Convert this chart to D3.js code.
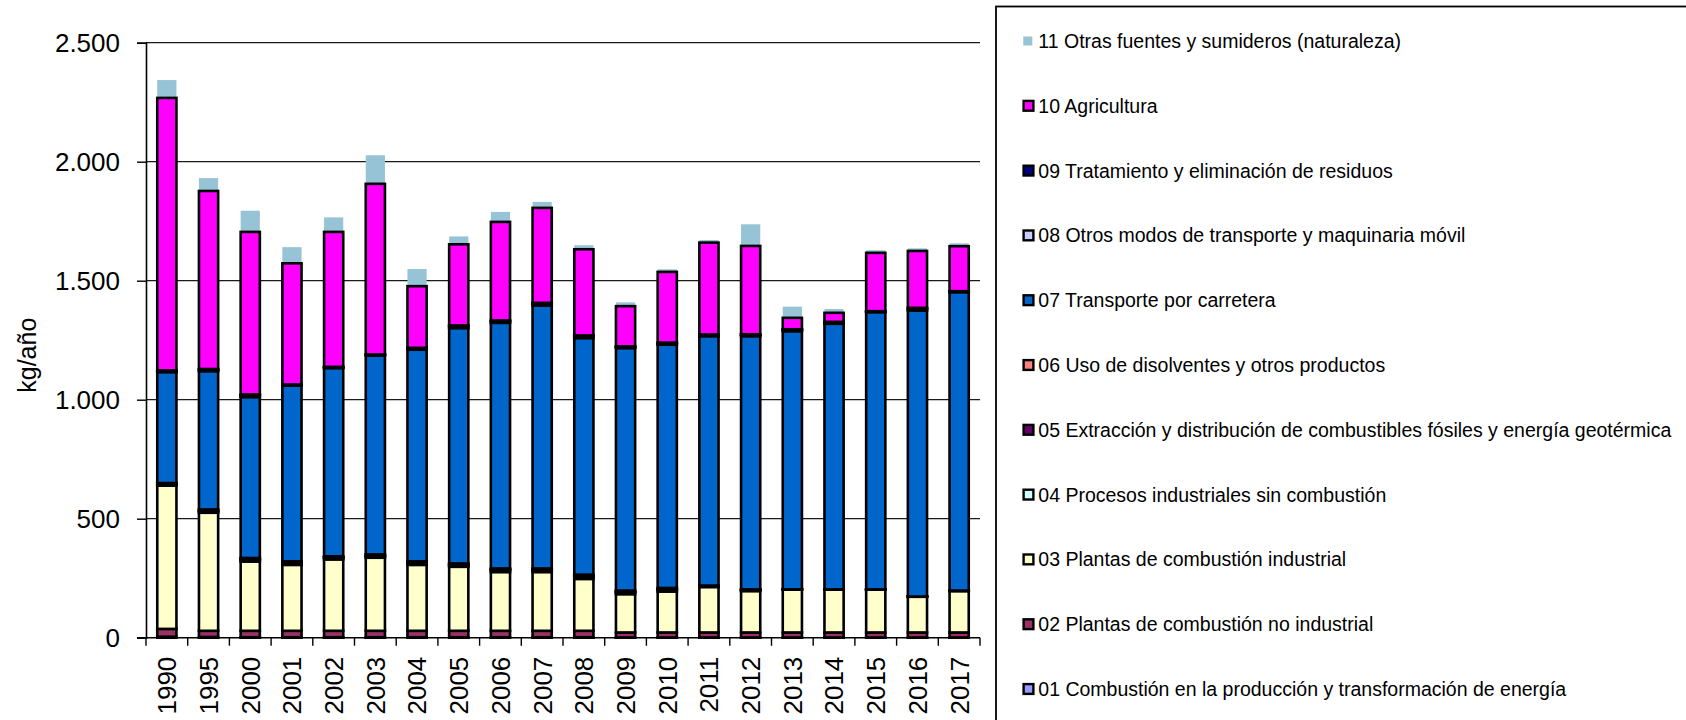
<!DOCTYPE html>
<html>
<head>
<meta charset="utf-8">
<script src="https://cdn.jsdelivr.net/npm/d3@7/dist/d3.min.js"></script>
<style>
  html, body { margin: 0; padding: 0; background: #fff; }
  svg { display: block; font-family: "Liberation Sans", Arial, sans-serif; }
</style>
</head>
<body>
<div id="chart"></div>
<script>
const years = ["1990", "1995", "2000", "2001", "2002", "2003", "2004", "2005", "2006", "2007",
  "2008", "2009", "2010", "2011", "2012", "2013", "2014", "2015", "2016", "2017"]

// kg/año por sector
const s01 = [4, 3, 2, 2, 2, 2, 2, 2, 2, 2, 2, 1, 1, 1, 1, 1, 1, 1, 1, 1]
const s02 = [33, 26, 27, 27, 27, 27, 27, 27, 27, 27, 27, 21, 21, 21, 21, 21, 21, 21, 21, 21]
const s03 = [602, 496, 291, 277, 300, 307, 277, 269, 247, 247, 218, 161, 172, 191, 174, 180, 180, 180, 150, 174]
const s04 = [6, 7, 8, 8, 7, 7, 8, 7, 8, 8, 9, 8, 8, 3, 4, 0.5, 0.5, 0.5, 0.5, 1]
const s05 = [2, 2, 2, 2, 2, 2, 2, 2, 2, 2, 3, 2, 2, 1, 1, 0.2, 0.2, 0.2, 0.2, 0.3]
const s06 = [3, 5, 5, 5, 4, 5, 5, 5, 5, 5, 6, 5, 5, 2, 2, 0.3, 0.3, 0.3, 0.3, 0.7]
const s07 = [466, 581, 676, 739, 791, 836, 889, 989, 1032, 1105, 994, 1019, 1022, 1048, 1064, 1085, 1116, 1165, 1202, 1254]
const s08 = [5, 6, 8, 3, 3, 3, 6, 8, 7, 8, 8, 5, 6, 5, 6, 6, 6, 3, 8, 3]
const s09 = [2, 3, 3, 1, 2, 1, 2, 3, 3, 3, 3, 2, 3, 2, 2, 2, 2, 1, 3, 1]
const s10 = [1145, 748, 683, 509, 567, 717, 259, 341, 414, 399, 362, 169, 297, 386, 371, 48, 38, 245, 239, 189]
const s11 = [75, 54, 89, 68, 61, 120, 72, 33, 42, 25, 17, 16, 11, 11, 91, 47, 16, 11, 11, 12]

const yTicks = [0, 500, 1000, 1500, 2000, 2500]

const series = [
  { key: "s01", name: "01 Combustión en la producción y transformación de energía", color: "#9999ff", values: s01 },
  { key: "s02", name: "02 Plantas de combustión no industrial", color: "#993366", values: s02 },
  { key: "s03", name: "03 Plantas de combustión industrial", color: "#ffffcc", values: s03 },
  { key: "s04", name: "04 Procesos industriales sin combustión", color: "#ccffff", values: s04 },
  { key: "s05", name: "05 Extracción y distribución de combustibles fósiles y energía geotérmica", color: "#660066", values: s05 },
  { key: "s06", name: "06 Uso de disolventes y otros productos", color: "#ff8080", values: s06 },
  { key: "s07", name: "07 Transporte por carretera", color: "#0066cc", values: s07 },
  { key: "s08", name: "08 Otros modos de transporte y maquinaria móvil", color: "#ccccff", values: s08 },
  { key: "s09", name: "09 Tratamiento y eliminación de residuos", color: "#000080", values: s09 },
  { key: "s10", name: "10 Agricultura", color: "#ff00ff", values: s10 },
  { key: "s11", name: "11 Otras fuentes y sumideros (naturaleza)", color: "#96c3d5", values: s11, noStroke: true }
]

const width = 1686
const height = 720
const margin = { top: 42.7, right: 706, bottom: 82.3, left: 146 }

const rows = years.map((y, i) => {
  const r = { year: y }
  series.forEach(s => { r[s.key] = s.values[i] })
  return r
})

const stacked = d3.stack().keys(series.map(s => s.key))(rows)

const svg = d3.select("#chart")
  .append("svg")
  .attr("width", width)
  .attr("height", height)

const x = d3.scaleBand()
  .domain(years)
  .range([margin.left, width - margin.right])
  .paddingInner(0.54)
  .paddingOuter(0.27)

const y = d3.scaleLinear()
  .domain([0, 2500])
  .range([height - margin.bottom, margin.top])

// gridlines
svg.append("g")
  .selectAll("line")
  .data(yTicks.slice(1))
  .join("line")
  .attr("x1", margin.left).attr("x2", width - margin.right)
  .attr("y1", d => y(d)).attr("y2", d => y(d))
  .attr("stroke", "#1a1a1a")
  .attr("stroke-width", 1.3)

// y axis
const yAxis = svg.append("g")
  .attr("transform", `translate(${margin.left},0)`)
  .call(d3.axisLeft(y).tickValues(yTicks).tickSize(9).tickPadding(17)
    .tickFormat(d => d3.format(",")(d).replace(/,/g, ".")))
yAxis.select(".domain").attr("stroke", "#000").attr("stroke-width", 1.6)
yAxis.selectAll(".tick line").attr("stroke", "#000").attr("stroke-width", 1.4)
yAxis.selectAll("text")
  .attr("font-size", 26)
  .attr("font-family", "Liberation Sans, Arial, sans-serif")
  .attr("fill", "#000")

svg.append("text")
  .attr("transform", `translate(27,${(y(0) + y(2500)) / 2 + 15}) rotate(-90)`)
  .attr("text-anchor", "middle")
  .attr("dy", "0.35em")
  .attr("font-size", 25)
  .text("kg/año")

// bars: draw the "11" series first so the black outlines stay on top
const order = [stacked.length - 1, ...d3.range(stacked.length - 1)]
order.forEach(si => {
  const layer = stacked[si]
  const s = series[si]
  svg.append("g")
    .selectAll("rect")
    .data(layer)
    .join("rect")
    .attr("x", d => x(d.data.year))
    .attr("width", x.bandwidth())
    .attr("y", d => y(d[1]))
    .attr("height", d => y(d[0]) - y(d[1]))
    .attr("fill", s.color)
    .attr("stroke", s.noStroke ? "none" : "#000")
    .attr("stroke-width", 2.6)
})

// x baseline and category ticks
const xAxisG = svg.append("g")
xAxisG.append("line")
  .attr("x1", margin.left - 9).attr("x2", width - margin.right)
  .attr("y1", y(0)).attr("y2", y(0))
  .attr("stroke", "#000").attr("stroke-width", 1.6)
const bounds = d3.range(years.length + 1).map(i => margin.left + i * x.step())
xAxisG.selectAll(".xt")
  .data(bounds)
  .join("line")
  .attr("class", "xt")
  .attr("x1", d => d).attr("x2", d => d)
  .attr("y1", y(0)).attr("y2", y(0) + 8)
  .attr("stroke", "#000").attr("stroke-width", 1.4)

xAxisG.selectAll(".xl")
  .data(years)
  .join("text")
  .attr("class", "xl")
  .attr("transform", d => `translate(${x(d) + x.bandwidth() / 2},${y(0) + 19}) rotate(-90)`)
  .attr("text-anchor", "end")
  .attr("dy", "0.36em")
  .attr("font-size", 26)
  .text(d => d)

// legend
const lg = svg.append("g")
lg.append("rect")
  .attr("x", 996).attr("y", 6.5)
  .attr("width", 900).attr("height", 900)
  .attr("fill", "#fff")
  .attr("stroke", "#000")
  .attr("stroke-width", 1.8)

const legendItems = series.slice().reverse()
const ly = d3.scalePoint().domain(legendItems.map(d => d.key)).range([41, 689])

const li = lg.selectAll(".li")
  .data(legendItems)
  .join("g")
  .attr("class", "li")
  .attr("transform", d => `translate(1022.5,${ly(d.key)})`)

li.append("rect")
  .attr("x", d => d.noStroke ? 0.8 : 1.1)
  .attr("y", d => d.noStroke ? -4.5 : -4.9)
  .attr("width", d => d.noStroke ? 9 : 9.8)
  .attr("height", d => d.noStroke ? 9 : 9.8)
  .attr("fill", d => d.color)
  .attr("stroke", d => d.noStroke ? "none" : "#000")
  .attr("stroke-width", 2.4)

li.append("text")
  .attr("x", 15.8)
  .attr("dy", "0.36em")
  .attr("font-size", 19.5)
  .text(d => d.name)
</script>
</body>
</html>
